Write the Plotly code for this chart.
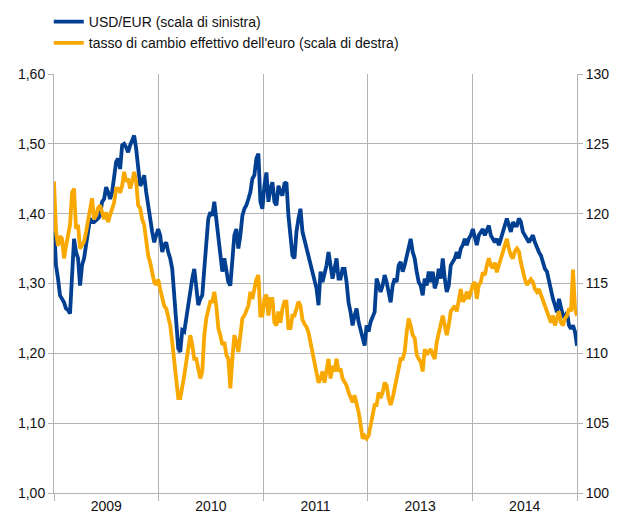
import plotly.graph_objects as go

# USD/EUR (left scale), equally spaced observations
usd_eur = [
    1.383, 1.326, 1.307, 1.283, 1.278, 1.273, 1.264, 1.262, 1.257, 1.307, 1.364, 1.345, 1.336, 1.297,
    1.326, 1.336, 1.359, 1.374, 1.393, 1.388, 1.388, 1.390, 1.393, 1.397, 1.417, 1.421, 1.438, 1.431,
    1.421, 1.431, 1.455, 1.474, 1.479, 1.464, 1.498, 1.500, 1.495, 1.488, 1.498, 1.507, 1.512, 1.493,
    # --
    1.469, 1.440, 1.445, 1.455, 1.431, 1.407, 1.393, 1.374, 1.359, 1.369, 1.378, 1.369, 1.345, 1.355,
    1.359, 1.345, 1.336, 1.321, 1.278, 1.245, 1.207, 1.202, 1.233, 1.231, 1.250, 1.269, 1.297, 1.307,
    1.321, 1.293, 1.269, 1.278, 1.283, 1.321, 1.355, 1.393, 1.402, 1.397, 1.417, 1.393, 1.369, 1.345,
    1.317, 1.336,
    # --
    1.321, 1.302, 1.297, 1.336, 1.369, 1.378, 1.350, 1.369, 1.397, 1.407, 1.412, 1.421, 1.431, 1.450,
    1.455, 1.479, 1.486, 1.417, 1.407, 1.440, 1.459, 1.417, 1.436, 1.445, 1.417, 1.412, 1.440, 1.431,
    1.426, 1.443, 1.445, 1.397, 1.369, 1.340, 1.336, 1.374, 1.393, 1.407, 1.374, 1.362, 1.350, 1.336,
    1.326, 1.312,
    # --
    1.302, 1.293, 1.269, 1.317, 1.302, 1.312, 1.326, 1.345, 1.321, 1.307, 1.321, 1.336, 1.307, 1.307,
    1.321, 1.321, 1.302, 1.273, 1.259, 1.240, 1.254, 1.264, 1.245, 1.235, 1.221, 1.211, 1.240, 1.231,
    1.245, 1.254, 1.259, 1.307, 1.297, 1.288, 1.297, 1.312, 1.302, 1.288, 1.273, 1.297, 1.307, 1.302,
    1.326, 1.331,
    # --
    1.317, 1.326, 1.340, 1.355, 1.364, 1.345, 1.336, 1.317, 1.302, 1.297, 1.283, 1.307, 1.297, 1.317,
    1.302, 1.317, 1.293, 1.302, 1.321, 1.307, 1.336, 1.307, 1.288, 1.297, 1.326, 1.331, 1.336, 1.345,
    1.336, 1.350, 1.355, 1.364, 1.355, 1.364, 1.369, 1.378, 1.364, 1.355, 1.369, 1.374, 1.378, 1.369,
    1.378, 1.383,
    # --
    1.369, 1.364, 1.359, 1.364, 1.355, 1.364, 1.374, 1.383, 1.393, 1.383, 1.374, 1.388, 1.383, 1.383,
    1.393, 1.388, 1.374, 1.369, 1.364, 1.359, 1.364, 1.369, 1.359, 1.350, 1.345, 1.340, 1.331, 1.321,
    1.317, 1.302, 1.293, 1.278, 1.269, 1.259, 1.278, 1.264, 1.254, 1.250, 1.259, 1.240, 1.235, 1.240,
    1.231, 1.211,
]

# Euro effective exchange rate (right scale)
eer = [
    122.3, 118.7, 117.7, 118.4, 118.2, 116.8, 117.7, 118.4, 119.2, 121.5, 121.8, 118.9, 119.2, 117.5,
    117.7, 118.0, 118.7, 119.6, 120.1, 121.1, 119.6, 119.9, 120.4, 120.6, 120.1, 119.6, 120.1, 119.4,
    119.9, 120.4, 120.8, 121.8, 121.8, 121.5, 122.0, 123.0, 122.3, 122.5, 121.8, 122.3, 123.0, 122.3,
    # --
    120.6, 120.4, 119.6, 119.2, 118.2, 117.0, 116.5, 115.8, 115.1, 114.9, 115.3, 114.6, 113.9, 113.4,
    113.2, 112.7, 112.0, 110.8, 109.4, 108.4, 106.8, 106.8, 107.5, 108.4, 109.4, 110.3, 111.3, 110.6,
    109.6, 109.6, 108.9, 108.2, 108.7, 111.3, 112.5, 113.2, 113.7, 113.7, 114.4, 113.4, 111.8, 111.3,
    110.6, 110.8,
    # --
    109.9, 109.6, 107.5, 109.6, 111.3, 110.8, 110.1, 111.3, 112.5, 112.7, 113.0, 113.4, 114.4, 113.9,
    114.6, 115.3, 115.6, 112.7, 112.7, 113.9, 114.2, 112.7, 113.9, 113.9, 112.2, 112.0, 113.0, 112.2,
    113.2, 113.7, 113.7, 111.8, 111.8, 112.7, 112.7, 113.2, 113.7, 113.4, 112.4, 112.1, 111.9, 111.5,
    110.8, 110.3,
    # --
    109.4, 108.7, 107.9, 108.2, 108.7, 107.9, 108.7, 109.6, 108.2, 109.1, 108.7, 109.6, 108.7, 108.9,
    108.2, 107.9, 107.7, 107.2, 106.8, 106.5, 107.0, 106.5, 105.8, 104.9, 103.9, 104.1, 103.9, 104.1,
    104.9, 105.8, 106.3, 106.3, 107.2, 106.8, 107.2, 107.9, 107.7, 106.8, 106.3, 106.8, 107.7, 108.2,
    108.9, 109.6,
    # --
    109.6, 110.1, 111.5, 112.5, 112.0, 111.3, 111.1, 109.9, 109.6, 109.4, 108.7, 110.3, 109.9, 110.1,
    110.3, 109.9, 109.6, 110.8, 111.5, 112.2, 112.7, 112.0, 111.3, 112.0, 113.0, 113.2, 113.4, 113.0,
    113.9, 114.6, 113.7, 113.9, 114.4, 113.9, 114.4, 114.9, 115.1, 113.9, 114.9, 115.1, 115.8, 115.6,
    116.3, 116.8,
    # --
    116.3, 116.1, 116.5, 115.8, 116.3, 116.8, 117.3, 117.7, 118.2, 117.5, 117.0, 116.8, 117.3, 117.5,
    117.3, 116.5, 115.8, 115.3, 114.9, 115.1, 115.3, 115.1, 114.6, 114.4, 114.6, 114.2, 113.7, 113.4,
    113.0, 112.5, 112.2, 112.7, 112.0, 112.5, 113.0, 112.2, 112.0, 112.5, 112.7, 113.2, 113.0, 116.0,
    113.2, 112.7,
]

period_labels = ["2009", "2010", "2011", "2013", "2014"]
series_names = ["USD/EUR (scala di sinistra)",
                "tasso di cambio effettivo dell'euro (scala di destra)"]

n = len(usd_eur)
x = list(range(n))
last = n - 1
nseg = len(period_labels)
seg = last / nseg
label_pos = [seg * (i + 0.5) for i in range(nseg)]
bounds = [seg * i for i in range(nseg + 1)]

BLUE = "#003f91"
ORANGE = "#f9a800"
GRID = "#b3b3b3"
FONT = "Liberation Sans, Arial, sans-serif"

fig = go.Figure()
fig.add_trace(go.Scatter(x=x, y=usd_eur, mode="lines", name=series_names[0],
                         line=dict(color=BLUE, width=3.8), yaxis="y"))
fig.add_trace(go.Scatter(x=x, y=eer, mode="lines", name=series_names[1],
                         line=dict(color=ORANGE, width=3.8), yaxis="y2"))

fig.update_layout(
    width=617, height=524,
    margin=dict(l=54, r=40, t=74, b=31, autoexpand=False),
    paper_bgcolor="white", plot_bgcolor="white",
    separators=",.",
    font=dict(family=FONT, size=14, color="#111"),
    showlegend=True,
    legend=dict(x=-0.010, y=1.162, xanchor="left", yanchor="top",
                orientation="v", font=dict(size=14, color="#111"),
                itemwidth=30, tracegroupgap=0, bgcolor="rgba(0,0,0,0)"),
    xaxis=dict(range=[0, last], tickmode="array", tickvals=label_pos, ticktext=period_labels,
               ticks="", showgrid=False, zeroline=False, showline=True, linecolor=GRID,
               linewidth=1, mirror=False,
               minor=dict(tickmode="array", tickvals=bounds, showgrid=True, gridcolor=GRID,
                          gridwidth=1, ticks="outside", ticklen=7, tickcolor=GRID),
               tickfont=dict(size=14)),
    yaxis=dict(range=[1.0, 1.6], tickmode="linear", tick0=1.0, dtick=0.1, tickformat=".2f",
               showgrid=True, gridcolor=GRID, gridwidth=1, zeroline=False,
               showline=True, linecolor=GRID, ticks="outside", ticklen=5, tickcolor=GRID,
               tickfont=dict(size=14)),
    yaxis2=dict(range=[100, 130], tickmode="linear", tick0=100, dtick=5, overlaying="y",
                side="right", showgrid=False, zeroline=False, showline=True, linecolor=GRID,
                ticks="outside", ticklen=5, tickcolor=GRID, tickfont=dict(size=14)),
)

fig.write_html("out.html", config={"displayModeBar": False},
               post_script="document.body.style.margin='0';")
